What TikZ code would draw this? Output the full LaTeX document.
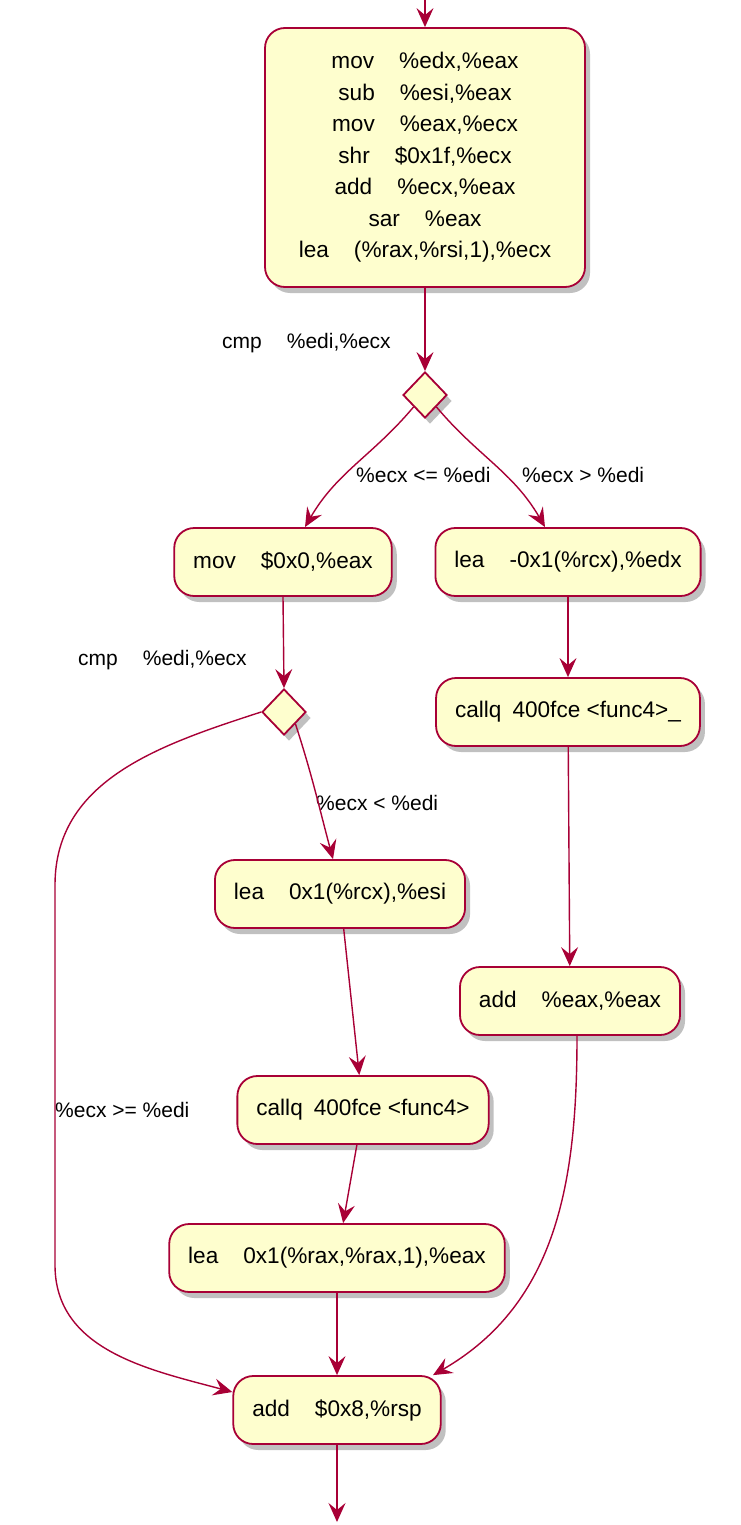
\documentclass[tikz,border=0pt]{standalone}
\usepackage{fontspec}
\setmainfont{Liberation Sans}
\usetikzlibrary{arrows.meta, shapes.geometric, shadows}

\definecolor{umlred}{HTML}{A80036}
\definecolor{umlfill}{HTML}{FEFECE}
\newcommand{\tabgap}{\hspace{25pt}}
\newcommand{\callgap}{\hspace{11pt}}

\begin{document}
\begin{tikzpicture}[x=1pt, y=-1pt,
    action/.style={rectangle, rounded corners=20pt, draw=umlred, line width=1.8pt,
        fill=umlfill, minimum height=68pt, inner xsep=19pt, align=center,
        font=\fontsize{22.6}{31.5}\selectfont,
        drop shadow={shadow xshift=5pt, shadow yshift=-6pt, fill=black!55, opacity=0.45}},
    decision/.style={diamond, draw=umlred, line width=1.8pt, fill=umlfill,
        minimum width=44pt, minimum height=46pt, inner sep=0pt,
        drop shadow={shadow xshift=5pt, shadow yshift=-6pt, fill=black!55, opacity=0.45}},
    guard/.style={anchor=west, inner sep=0pt, font=\fontsize{21}{25}\selectfont},
    flow/.style={draw=umlred, line width=1.4pt,
        -{Stealth[length=19pt, width=17pt, inset=7pt]}}]
\useasboundingbox (0,0) rectangle (741,1525);

% activity boxes
\node[action, minimum width=320pt, minimum height=259pt] (calc) at (425,157.5)
    {mov\tabgap\%edx,\%eax\\ sub\tabgap\%esi,\%eax\\ mov\tabgap\%eax,\%ecx\\
     shr\tabgap\$0x1f,\%ecx\\ add\tabgap\%ecx,\%eax\\ sar\tabgap\%eax\\
     lea\tabgap(\%rax,\%rsi,1),\%ecx};
\node[decision] (d1) at (425,395) {};

\node[action] (zero) at (283,562) {mov\tabgap\$0x0,\%eax};
\node[action] (dec) at (568,562) {lea\tabgap-0x1(\%rcx),\%edx};

\node[decision] (d2) at (284,712) {};
\node[action] (callhi) at (568,712) {callq\callgap 400fce <func4>\_};

\node[action] (inc) at (340,894) {lea\tabgap0x1(\%rcx),\%esi};
\node[action] (dbl) at (570,1001) {add\tabgap\%eax,\%eax};
\node[action] (calllo) at (363,1110) {callq\callgap 400fce <func4>};
\node[action] (odd) at (337,1258) {lea\tabgap0x1(\%rax,\%rax,1),\%eax};
\node[action] (ret) at (337,1410) {add\tabgap\$0x8,\%rsp};

\coordinate (entry) at (425,0);
\coordinate (exit) at (337,1522);

% guards
\node[guard] (cmp1) at (222,343) {cmp\tabgap\%edi,\%ecx};
\node[guard] (le) at (356,475) {\%ecx <= \%edi};
\node[guard] (gt) at (522,475) {\%ecx > \%edi};
\node[guard] (cmp2) at (78,660) {cmp\tabgap\%edi,\%ecx};
\node[guard] (lt) at (316,803) {\%ecx < \%edi};
\node[guard] (ge) at (55,1110) {\%ecx >= \%edi};

% control flow
\draw[flow] (entry) -- (calc);
\draw[flow] (calc) -- (d1);
\draw[flow] (d1.south west) to[out=-130, in=60] ([xshift=22pt]zero.north);
\draw[flow] (d1.south east) to[out=-50, in=120] ([xshift=-23pt]dec.north);
\draw[flow] (zero.south) -- (d2.north);
\draw[flow] (dec) -- (callhi);
\draw[flow] (d2.south east) to[out=-72, in=105] ([xshift=-7pt]inc.north);
\draw[flow] (d2.west) to[out=198, in=90] (55,885) -- (55,1265)
    to[out=-90, in=165] ([yshift=18pt]ret.west);
\draw[flow] (inc) -- (calllo);
\draw[flow] (calllo) -- (odd);
\draw[flow] (odd) -- (ret);
\draw[flow] (callhi) -- (dbl);
\draw[flow] ([xshift=7pt]dbl.south) to[out=-90, in=30] ([xshift=96pt]ret.north);
\draw[flow] (ret) -- (exit);
\end{tikzpicture}
\end{document}
